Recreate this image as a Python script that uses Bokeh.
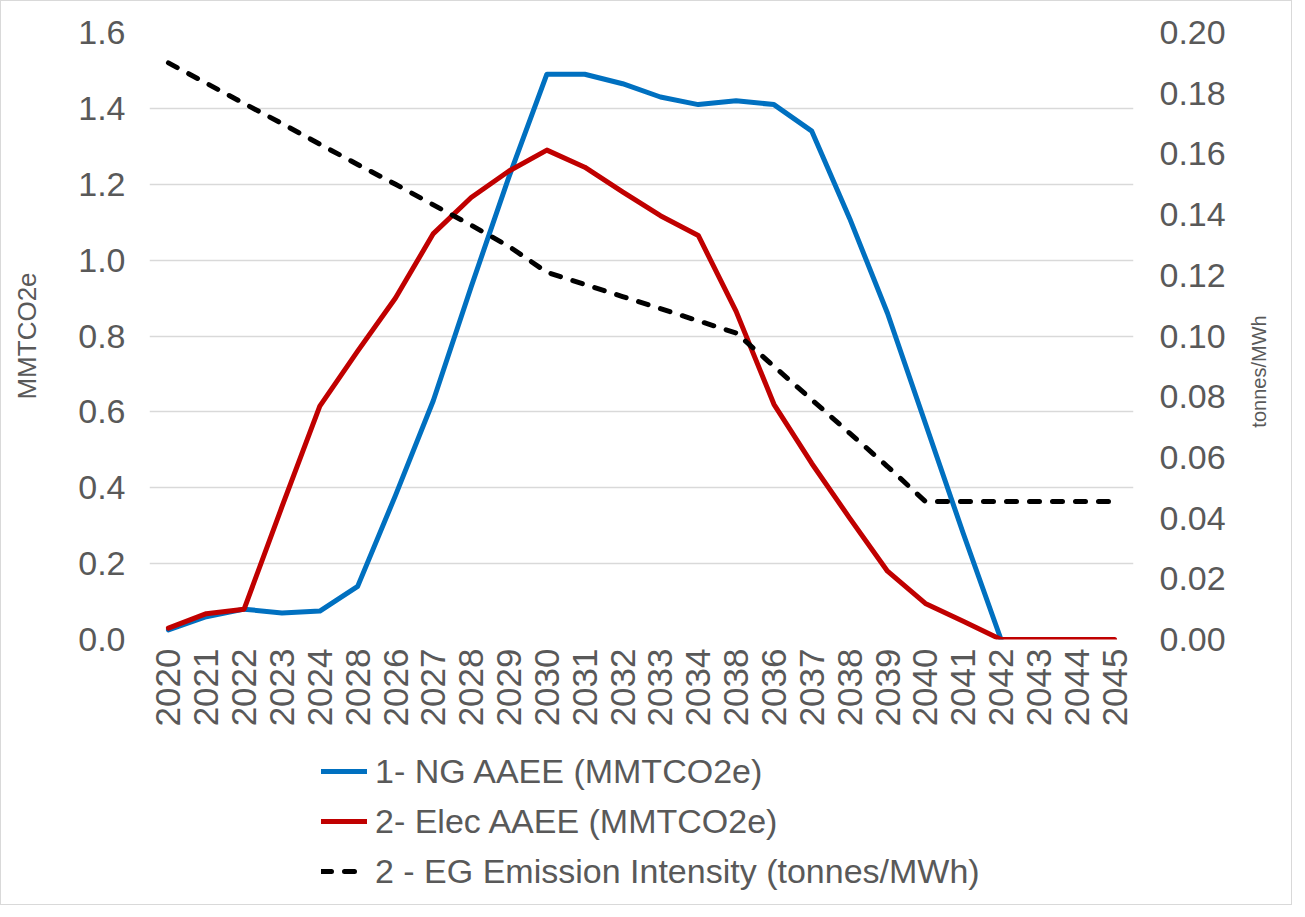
import math
from bokeh.plotting import figure
from bokeh.layouts import column, row
from bokeh.models import (Range1d, LinearAxis, Legend, LegendItem, FixedTicker, Label,
                          SingleIntervalTicker, NumeralTickFormatter)
from bokeh.embed import file_html
from bokeh.resources import INLINE

# ---- data ----
year_labels = ["2020", "2021", "2022", "2023", "2024", "2028", "2026", "2027", "2028",
               "2029", "2030", "2031", "2032", "2033", "2034", "2038", "2036", "2037",
               "2038", "2039", "2040", "2041", "2042", "2043", "2044", "2045"]
ng_aaee = [0.025, 0.06, 0.08, 0.07, 0.075, 0.14, 0.38, 0.63, 0.93, 1.22, 1.49, 1.49,
           1.465, 1.43, 1.41, 1.42, 1.41, 1.34, 1.11, 0.86, 0.57, 0.28, 0.0,
           float("nan"), float("nan"), float("nan")]
elec_aaee = [0.03, 0.068, 0.08, 0.35, 0.615, 0.76, 0.90, 1.07, 1.165, 1.235, 1.29, 1.245,
             1.18, 1.117, 1.065, 0.865, 0.62, 0.464, 0.32, 0.18, 0.095, 0.048, 0.0,
             0.0, 0.0, 0.0]
eg_intensity = [0.19, 0.1833, 0.1766, 0.170, 0.1632, 0.1565, 0.150, 0.1432, 0.1365,
                0.1295, 0.121, 0.117, 0.113, 0.109, 0.105, 0.101, 0.090, 0.079, 0.068,
                0.057, 0.0455, 0.0455, 0.0455, 0.0455, 0.0455, 0.0455]
legend_labels = ["1- NG AAEE (MMTCO2e)", "2- Elec AAEE (MMTCO2e)",
                 "2 - EG Emission Intensity (tonnes/MWh)"]
left_title = "MMTCO2e"
right_title = "tonnes/MWh"

xs = list(range(len(year_labels)))

TEXT = "#595959"
GRID = "#D9D9D9"
FONT = "Liberation Sans"
STYLES = [dict(line_color="#0070C0", line_width=5, line_cap="round", line_join="round"),
          dict(line_color="#C00000", line_width=5, line_cap="round", line_join="round"),
          dict(line_color="black", line_width=5, line_dash="10 13",
               line_cap="round", line_join="round")]

# ---- main chart ----
p = figure(width=1240, height=738, output_backend="svg", toolbar_location=None,
           x_range=Range1d(-0.5, len(xs) - 0.5), y_range=Range1d(0, 1.6),
           min_border_left=148, min_border_right=108, min_border_top=31,
           min_border_bottom=100, background_fill_color="white",
           border_fill_color="white", outline_line_color=None)
p.extra_y_ranges = {"int": Range1d(0, 0.2)}

p.line(xs, ng_aaee, **STYLES[0])
p.line(xs, elec_aaee, **STYLES[1])
p.line(xs, eg_intensity, y_range_name="int", **STYLES[2])

p.xgrid.visible = False
p.ygrid.grid_line_color = GRID
p.ygrid.grid_line_width = 1.5
p.ygrid.ticker = SingleIntervalTicker(interval=0.2)

xa = p.xaxis[0]
xa.ticker = FixedTicker(ticks=xs)
xa.major_label_overrides = {i: lab for i, lab in enumerate(year_labels)}
xa.major_label_orientation = math.pi / 2
xa.axis_line_color = None
xa.major_tick_line_color = None
xa.minor_tick_line_color = None
xa.major_tick_out = 0
xa.major_label_text_font = FONT
xa.major_label_text_font_size = "35px"
xa.major_label_text_color = TEXT
xa.major_label_standoff = 9

ya = p.yaxis[0]
ya.ticker = SingleIntervalTicker(interval=0.2)
ya.formatter = NumeralTickFormatter(format="0.0")
ya.axis_line_color = None
ya.major_tick_line_color = None
ya.minor_tick_line_color = None
ya.major_tick_out = 0
ya.major_label_text_font = FONT
ya.major_label_text_font_size = "34px"
ya.major_label_text_color = TEXT
ya.major_label_standoff = 20
ya.axis_label = left_title
ya.axis_label_text_font = FONT
ya.axis_label_text_font_size = "26px"
ya.axis_label_text_font_style = "normal"
ya.axis_label_text_color = TEXT
ya.axis_label_standoff = 33

ra = LinearAxis(y_range_name="int", ticker=SingleIntervalTicker(interval=0.02),
                formatter=NumeralTickFormatter(format="0.00"))
ra.axis_line_color = None
ra.major_tick_line_color = None
ra.minor_tick_line_color = None
ra.major_tick_out = 0
ra.major_label_text_font = FONT
ra.major_label_text_font_size = "34px"
ra.major_label_text_color = TEXT
ra.major_label_standoff = 22
p.add_layout(ra, "right")

# ---- legend strip (its frame aligns with the chart frame in the column) ----
q = figure(width=1240, height=165, output_backend="svg", toolbar_location=None,
           x_range=Range1d(0, 1), y_range=Range1d(0, 1),
           x_axis_type=None, y_axis_type=None, min_border=0,
           outline_line_color=None, background_fill_color="white",
           border_fill_color="white")
q.grid.visible = False
nan = float("nan")
lr = [q.line([nan], [nan], **s) for s in STYLES]
legend = Legend(items=[LegendItem(label=l, renderers=[r]) for l, r in zip(legend_labels, lr)],
                location=(172, 13), orientation="vertical",
                border_line_color=None, background_fill_alpha=0,
                padding=0, margin=0, spacing=10,
                glyph_width=46, glyph_height=40, label_height=40,
                label_standoff=8, label_text_font=FONT,
                label_text_font_size="34px", label_text_color=TEXT)
q.add_layout(legend)

# ---- right-hand strip carrying the secondary axis title (reads upward) ----
r = figure(width=50, height=903, output_backend="svg", toolbar_location=None,
           x_range=Range1d(0, 1), y_range=Range1d(0, 1),
           x_axis_type=None, y_axis_type=None, min_border=0,
           outline_line_color=None, background_fill_color="white",
           border_fill_color="white")
r.grid.visible = False
r.add_layout(Label(x=17, y=533, x_units="screen", y_units="screen", text=right_title,
                   angle=math.pi / 2, text_align="center", text_baseline="middle",
                   text_font=FONT, text_font_size="20px", text_color=TEXT))

layout = row(column(p, q, spacing=0), r, spacing=0,
             styles={"border": "1px solid #D9D9D9"})

open("out.html", "w").write(file_html(layout, INLINE))
